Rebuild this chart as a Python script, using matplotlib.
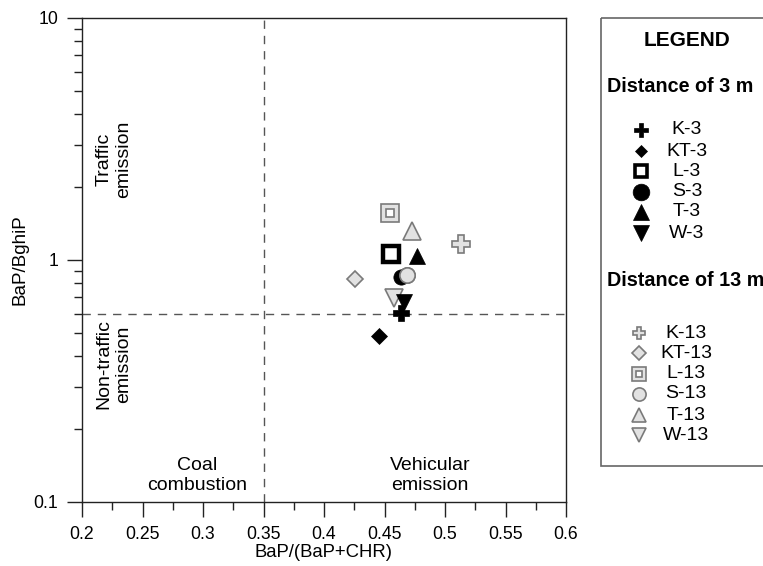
import matplotlib
matplotlib.use('Agg')
import matplotlib.pyplot as plt
import matplotlib.ticker as mticker
from matplotlib.patches import Rectangle

plt.rcParams['font.family'] = ['Liberation Sans', 'DejaVu Sans']

# ── data ────────────────────────────────────────────────────────────────────
labels_3  = ['K-3', 'KT-3', 'L-3', 'S-3', 'T-3', 'W-3']
x_3       = [0.4636, 0.4455, 0.4550, 0.4640, 0.4765, 0.4660]
y_3       = [0.602, 0.485, 1.06, 0.848, 1.04, 0.673]

labels_13 = ['K-13', 'KT-13', 'L-13', 'S-13', 'T-13', 'W-13']
x_13      = [0.5130, 0.4260, 0.4545, 0.4690, 0.4725, 0.4580]
y_13      = [1.16, 0.832, 1.57, 0.865, 1.32, 0.695]

x_split = 0.35
y_split = 0.6

x_ticks = [0.2, 0.25, 0.3, 0.35, 0.4, 0.45, 0.5, 0.55, 0.6]
y_ticks = [0.1, 1, 10]
y_tick_labels = ['0.1', '1', '10']

# ── marker styles ──────────────────────────────────────────────────────────
GFACE = '#e2e2e2'
GEDGE = '#7a7a7a'
style_3 = {
    'K-3':  dict(marker='P', ms=12, mfc='black', mec='black', mew=0.5),
    'KT-3': dict(marker='D', ms=8.5, mfc='black', mec='black', mew=0.5),
    'L-3':  dict(marker='s', ms=11, mfc='white', mec='black', mew=3.2),
    'S-3':  dict(marker='o', ms=11, mfc='black', mec='black', mew=0.5),
    'T-3':  dict(marker='^', ms=12, mfc='black', mec='black', mew=0.5),
    'W-3':  dict(marker='v', ms=12, mfc='black', mec='black', mew=0.5),
}
style_13 = {
    'K-13':  dict(marker='P', ms=12.5, mfc=GFACE, mec=GEDGE, mew=1.2),
    'KT-13': dict(marker='D', ms=8.5, mfc=GFACE, mec=GEDGE, mew=1.2),
    'L-13':  dict(marker='s', ms=12.5, mfc=GFACE, mec=GEDGE, mew=1.2),
    'S-13':  dict(marker='o', ms=11, mfc=GFACE, mec=GEDGE, mew=1.2),
    'T-13':  dict(marker='^', ms=12.5, mfc=GFACE, mec=GEDGE, mew=1.2),
    'W-13':  dict(marker='v', ms=12.5, mfc=GFACE, mec=GEDGE, mew=1.2),
}
L13_INNER = dict(marker='s', ms=6, mfc='white', mec=GEDGE, mew=1.2)

# legend symbols are drawn a little differently from the plot ones
legend_ms = {'K-3': 9.5, 'KT-3': 6.5, 'L-3': 8.5, 'S-3': 12, 'T-3': 11.5, 'W-3': 11.5,
             'K-13': 9, 'KT-13': 7, 'L-13': 9.5, 'S-13': 9.5, 'T-13': 10, 'W-13': 10}


def draw_marker(ax, x, y, name, st, ms=None, z=3):
    s = dict(st)
    scale = 1.0
    if ms is not None:
        scale = ms / s['ms']
        s['ms'] = ms
    if name == 'L-3' and ms is not None:
        s['mew'] = 2.6
    ax.plot([x], [y], ls='none', zorder=z, **s)
    if name == 'L-13':
        inner = dict(L13_INNER)
        inner['ms'] = inner['ms'] * scale
        ax.plot([x], [y], ls='none', zorder=z + 0.1, **inner)


W, H = 763, 566
fig = plt.figure(figsize=(W / 100, H / 100), dpi=100)
ax = fig.add_axes([82 / W, (H - 502) / H, 484 / W, 484 / H])

ax.set_yscale('log')
ax.set_xlim(0.2, 0.6)
ax.set_ylim(0.1, 10)

ax.axvline(x_split, color='#555555', lw=1, ls=(0, (6, 5)), zorder=1)
ax.axhline(y_split, color='#555555', lw=1, ls=(0, (6, 5)), zorder=1)

# 13 m first so that the 3 m markers sit on top where they overlap
for name, x, y in zip(labels_13, x_13, y_13):
    draw_marker(ax, x, y, name, style_13[name], z=3)
for name, x, y in zip(labels_3, x_3, y_3):
    draw_marker(ax, x, y, name, style_3[name], z=4)
# grey circle S-13 is drawn over S-3 in the reference
draw_marker(ax, x_13[3], y_13[3], 'S-13', style_13['S-13'], z=5)

txt = dict(fontsize=14, ha='center', va='center', linespacing=1.2)
ax.text(0.2265, 2.6, 'Traffic\nemission', rotation=90, **txt)
ax.text(0.2265, 0.37, 'Non-traffic\nemission', rotation=90, **txt)
ax.text(0.295, 0.129, 'Coal\ncombustion', **txt)
ax.text(0.4876, 0.129, 'Vehicular\nemission', **txt)

ax.xaxis.set_major_locator(mticker.FixedLocator(x_ticks))
ax.xaxis.set_major_formatter(mticker.FixedFormatter([f'{v:g}' for v in x_ticks]))
ax.xaxis.set_minor_locator(mticker.MultipleLocator(0.025))
ax.yaxis.set_major_locator(mticker.FixedLocator(y_ticks))
ax.yaxis.set_major_formatter(mticker.FixedFormatter(y_tick_labels))
ax.yaxis.set_minor_locator(mticker.LogLocator(base=10, subs=range(2, 10)))
ax.yaxis.set_minor_formatter(mticker.NullFormatter())

ax.tick_params(which='major', direction='out', length=11, width=1,
               labelsize=12.7, pad=6, color='#222222')
ax.tick_params(which='minor', direction='out', length=5.5, width=1,
               color='#222222')
for sp in ax.spines.values():
    sp.set_linewidth(1)
    sp.set_color('#222222')

ax.set_xlabel('BaP/(BaP+CHR)', fontsize=13.3, labelpad=1)
ax.set_ylabel('BaP/BghiP', fontsize=13.5, labelpad=4)

# ── custom legend panel (pixel coordinates, y measured from the top) ───────
lg = fig.add_axes([0, 0, 1, 1], facecolor='none')
lg.set_xlim(0, W)
lg.set_ylim(H, 0)
lg.axis('off')
lg.add_patch(Rectangle((601, 18), 200, 448, fill=False, ec='#666666', lw=1.2))
lg.text(687, 41, 'LEGEND', fontsize=15, fontweight='bold', ha='center', va='center')
lg.text(607, 86, 'Distance of 3 m', fontsize=14.2, fontweight='bold', ha='left', va='center')
lg.text(607, 281, 'Distance of 13 m', fontsize=14.2, fontweight='bold', ha='left', va='center')

row_y_3 = [130, 151, 171, 192, 212, 233]
row_y_13 = [333, 353, 374, 394, 415, 435]
for name, ry in zip(labels_3, row_y_3):
    draw_marker(lg, 641, ry, name, style_3[name], ms=legend_ms[name])
    lg.text(687, ry, name, fontsize=14, ha='center', va='center')
for name, ry in zip(labels_13, row_y_13):
    draw_marker(lg, 639, ry, name, style_13[name], ms=legend_ms[name])
    lg.text(686, ry, name, fontsize=14, ha='center', va='center')

fig.savefig('out.png', dpi=100, facecolor='white')
